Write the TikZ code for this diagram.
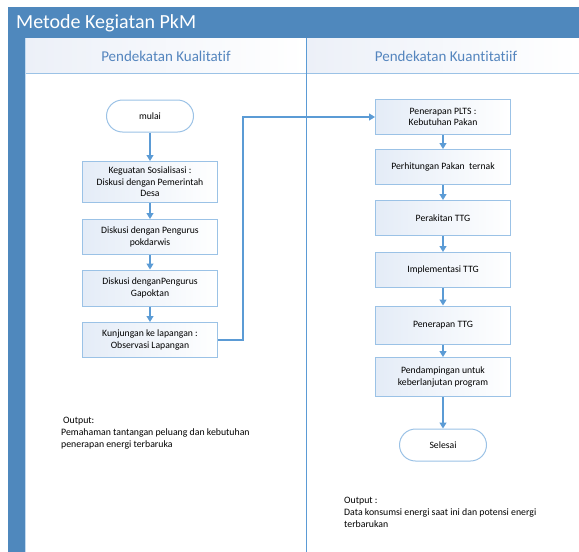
\documentclass[tikz,border=0pt]{standalone}
\usepackage{fontspec}
\setmainfont{Carlito}[Ligatures=NoCommon]
\usetikzlibrary{arrows.meta}

\definecolor{barblue}{RGB}{79,136,189}
\definecolor{lineblue}{RGB}{91,155,213}
\definecolor{boxedge}{RGB}{155,194,230}
\definecolor{boxtint}{RGB}{228,236,247}
\definecolor{hdrtint}{RGB}{236,240,248}
\definecolor{hdrtext}{RGB}{84,133,190}

\tikzset{
  flowbox/.style={draw=boxedge, line width=1pt, left color=boxtint, right color=white,
    minimum width=135pt, minimum height=35pt, align=center, inner sep=1pt,
    font=\fontsize{9.7}{11.5}\selectfont},
  endbox/.style={flowbox, left color=white, rounded corners=16pt,
    minimum width=87pt, minimum height=32pt},
  flow/.style={draw=lineblue, line width=1.2pt, -{Triangle[width=7pt,length=6pt]}},
  outtext/.style={anchor=north west, align=left, inner sep=0pt,
    font=\fontsize{9.8}{12}\selectfont},
}

\begin{document}
\begin{tikzpicture}
\useasboundingbox (0,0) rectangle (579pt,-552pt); % page size
% frame
\fill [barblue] (8pt,-7pt) rectangle (579pt,-38pt);
\fill [barblue] (8pt,-38pt) rectangle (25pt,-552pt);
\shade [left color=hdrtint, right color=white] (25pt,-38pt) rectangle (306pt,-73pt);
\shade [left color=hdrtint, right color=white] (306pt,-38pt) rectangle (579pt,-73pt);
\draw [boxedge, line width=0.8pt] (25pt,-73pt) -- (579pt,-73pt);
\draw [boxedge!60, line width=0.8pt] (25.5pt,-38pt) -- (25.5pt,-552pt);
\draw [lineblue, line width=0.8pt] (306pt,-38pt) coordinate (D) -- (306pt,-552pt);
\node at (16pt,-23pt) [anchor=west, text=white, inner sep=0pt,
  font=\fontsize{20}{23}\selectfont] (title) {Metode Kegiatan PkM};
\node at (166pt,-56pt) [text=hdrtext, font=\fontsize{15}{17}\selectfont] (hkual) {Pendekatan Kualitatif};
\node at (446pt,-56pt) [text=hdrtext, font=\fontsize{15}{17}\selectfont] (hkuan) {Pendekatan Kuantitatiif};

% Kualitatif
\node at (150pt,-116pt) [endbox] (mulai) {mulai};
\node at (150pt,-182pt) [flowbox, minimum height=41pt] (sos) {Keguatan Sosialisasi :\\ Diskusi dengan Pemerintah\\ Desa};
\node at (150pt,-237pt) [flowbox] (pokd) {Diskusi dengan Pengurus\\ pokdarwis};
\node at (150pt,-288pt) [flowbox, minimum height=36pt] (gap) {Diskusi denganPengurus\\ Gapoktan};
\node at (150pt,-340pt) [flowbox] (obs) {Kunjungan ke lapangan :\\ Observasi Lapangan};
\draw [flow] (mulai) -- (sos);
\draw [flow] (sos) -- (pokd);
\draw [flow] (pokd) -- (gap);
\draw [flow] (gap) -- (obs);

% Kuantitatif
\node at (443pt,-117pt) [flowbox] (plts) {Penerapan PLTS :\\ Kebutuhan Pakan};
\node at (443pt,-167pt) [flowbox] (hit) {Perhitungan Pakan\ \ ternak};
\node at (443pt,-218pt) [flowbox] (rakit) {Perakitan TTG};
\node at (443pt,-270pt) [flowbox] (impl) {Implementasi TTG};
\node at (443pt,-325pt) [flowbox, minimum height=38pt] (terap) {Penerapan TTG};
\node at (443pt,-377pt) [flowbox, minimum height=39pt] (damp) {Pendampingan untuk\\ keberlanjutan program};
\node at (443pt,-445pt) [endbox] (selesai) {Selesai};
\draw [flow] (obs.east) -- ++(25pt,0) |- (plts.west);
\draw [flow] (plts) -- (hit);
\draw [flow] (hit) -- (rakit);
\draw [flow] (rakit) -- (impl);
\draw [flow] (impl) -- (terap);
\draw [flow] (terap) -- (damp);
\draw [flow] (damp) -- (selesai);

% outputs
\node at (61pt,-417pt) [outtext] (outkual) {\hspace{2pt}Output:\\ Pemahaman tantangan peluang dan kebutuhan\\ penerapan energi terbaruka};
\node at (344pt,-497pt) [outtext] (outkuan) {Output :\\ Data konsumsi energi saat ini dan potensi energi\\ terbarukan};
\end{tikzpicture}
\end{document}
